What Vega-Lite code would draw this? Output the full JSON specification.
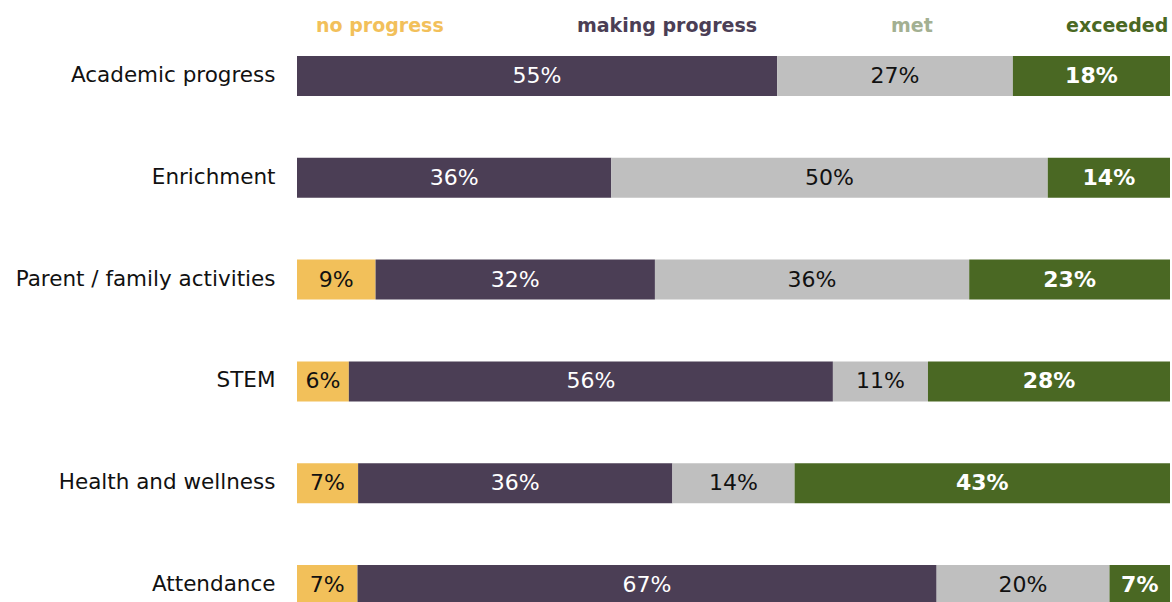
{
  "$schema": "https://vega.github.io/schema/vega-lite/v6.json",
  "width": 873,
  "height": 549,
  "autosize": {"type": "none"},
  "padding": {"left": 297, "top": 56, "right": 2, "bottom": 0},
  "background": "white",
  "config": {"view": {"stroke": null}, "font": "DejaVu Sans"},
  "data": {
    "values": [
      {"area": "Academic progress", "status": "making progress", "pct": 55},
      {"area": "Academic progress", "status": "met", "pct": 27},
      {"area": "Academic progress", "status": "exceeded", "pct": 18},
      {"area": "Enrichment", "status": "making progress", "pct": 36},
      {"area": "Enrichment", "status": "met", "pct": 50},
      {"area": "Enrichment", "status": "exceeded", "pct": 14},
      {"area": "Parent / family activities", "status": "no progress", "pct": 9},
      {"area": "Parent / family activities", "status": "making progress", "pct": 32},
      {"area": "Parent / family activities", "status": "met", "pct": 36},
      {"area": "Parent / family activities", "status": "exceeded", "pct": 23},
      {"area": "STEM", "status": "no progress", "pct": 6},
      {"area": "STEM", "status": "making progress", "pct": 56},
      {"area": "STEM", "status": "met", "pct": 11},
      {"area": "STEM", "status": "exceeded", "pct": 28},
      {"area": "Health and wellness", "status": "no progress", "pct": 7},
      {"area": "Health and wellness", "status": "making progress", "pct": 36},
      {"area": "Health and wellness", "status": "met", "pct": 14},
      {"area": "Health and wellness", "status": "exceeded", "pct": 43},
      {"area": "Attendance", "status": "no progress", "pct": 7},
      {"area": "Attendance", "status": "making progress", "pct": 67},
      {"area": "Attendance", "status": "met", "pct": 20},
      {"area": "Attendance", "status": "exceeded", "pct": 7}
    ]
  },
  "transform": [
    {"calculate": "indexof(['no progress','making progress','met','exceeded'], datum.status)", "as": "ord"},
    {"stack": "pct", "groupby": ["area"], "sort": [{"field": "ord", "order": "ascending"}], "offset": "normalize", "as": ["x0", "x1"]},
    {"calculate": "(datum.x0 + datum.x1) / 2", "as": "xm"},
    {"calculate": "datum.pct + '%'", "as": "lbl"}
  ],
  "encoding": {
    "y": {
      "field": "area",
      "type": "nominal",
      "sort": ["Academic progress", "Enrichment", "Parent / family activities", "STEM", "Health and wellness", "Attendance"],
      "scale": {"paddingInner": 0.607, "paddingOuter": 0},
      "axis": {
        "title": null,
        "domain": false,
        "ticks": false,
        "labelFont": "DejaVu Sans",
        "labelFontSize": 21.5,
        "labelColor": "#111111",
        "labelPadding": 22,
        "labelLimit": 400
      }
    }
  },
  "layer": [
    {
      "mark": {"type": "bar"},
      "encoding": {
        "x": {"field": "x0", "type": "quantitative", "scale": {"domain": [0, 1], "nice": false, "zero": false}, "axis": null},
        "x2": {"field": "x1"},
        "color": {
          "field": "status",
          "type": "nominal",
          "scale": {
            "domain": ["no progress", "making progress", "met", "exceeded"],
            "range": ["#F2C05A", "#4B3E55", "#BFBFBF", "#4A6823"]
          },
          "legend": {
            "orient": "top",
            "direction": "horizontal",
            "title": null,
            "symbolOpacity": 0,
            "symbolSize": 0,
            "symbolStrokeWidth": 0,
            "labelOffset": 0,
            "labelLimit": 400,
            "labelFont": "DejaVu Sans",
            "labelFontSize": 19,
            "labelFontWeight": "bold",
            "columnPadding": 114,
            "offset": 20,
            "encode": {
              "labels": {
                "update": {
                  "fill": {"signal": "({'no progress':'#F2C05A','making progress':'#4B3E55','met':'#A3B092','exceeded':'#4A6823'})[datum.value]"}
                }
              }
            }
          }
        }
      }
    },
    {
      "transform": [{"filter": "datum.status !== 'exceeded'"}],
      "mark": {"type": "text", "font": "DejaVu Sans", "fontSize": 22, "baseline": "middle", "align": "center"},
      "encoding": {
        "x": {"field": "xm", "type": "quantitative"},
        "text": {"field": "lbl", "type": "nominal"},
        "color": {"condition": {"test": "datum.status === 'making progress'", "value": "#FFFFFF"}, "value": "#111111"}
      }
    },
    {
      "transform": [{"filter": "datum.status === 'exceeded'"}],
      "mark": {"type": "text", "font": "DejaVu Sans", "fontSize": 22, "fontWeight": "bold", "baseline": "middle", "align": "center", "color": "#FFFFFF"},
      "encoding": {
        "x": {"field": "xm", "type": "quantitative"},
        "text": {"field": "lbl", "type": "nominal"}
      }
    }
  ]
}
